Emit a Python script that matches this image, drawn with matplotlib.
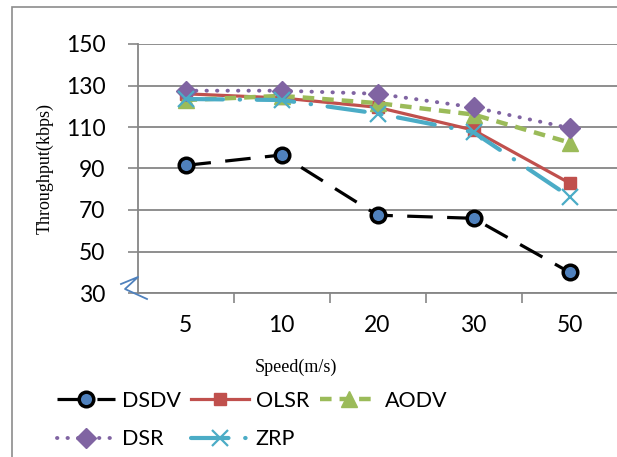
import matplotlib
matplotlib.use("Agg")
import matplotlib.pyplot as plt
from matplotlib.patches import Rectangle
from matplotlib.lines import Line2D

speeds = ["5", "10", "20", "30", "50"]
dsdv = [91.5, 96.5, 67.5, 66, 40]
olsr = [126, 124, 119.5, 108.5, 83]
aodv = [123, 125, 121.5, 116, 102.5]
dsr = [127.5, 127.5, 126, 119.5, 109.5]
zrp = [123.5, 123, 116.5, 107.5, 76.5]
yticks = [30, 50, 70, 90, 110, 130, 150]

W, H = 617, 457
fig = plt.figure(figsize=(W / 100, H / 100), dpi=100)
fig.patch.set_facecolor("white")

# outer border
fig.patches.append(Rectangle((12 / W, -0.1), 1.2, 1 - 7 / H + 0.1, transform=fig.transFigure,
                             fill=False, edgecolor="#8c8c8c", lw=1.2))

ax = fig.add_axes([137.5 / W, 1 - 293 / H, 480 / W, (293 - 44) / H])
x = list(range(len(speeds)))
grey = "#868686"

h1, = ax.plot(x, dsdv, color="black", lw=2.3, dashes=(8, 4.5), marker="o", ms=10.5,
              mfc="#4F81BD", mec="black", mew=2.5, label="DSDV", zorder=3)
h2, = ax.plot(x, olsr, color="#C0504D", lw=2.3, marker="s", ms=8.5,
              mfc="#C0504D", mec="#C0504D", label="OLSR", zorder=3)
h3, = ax.plot(x, aodv, color="#9BBB59", lw=3.2, dashes=(2.6, 1.8), marker="^", ms=12,
              mfc="#9BBB59", mec="#9BBB59", label="AODV", zorder=3)
h4, = ax.plot(x, dsr, color="#8064A2", lw=2.8, dashes=(0.1, 2.6), dash_capstyle="round",
              marker="D", ms=10, mfc="#8064A2", mec="#8064A2", label="DSR", zorder=3)
h5, = ax.plot(x, zrp, color="#4BACC6", lw=3.0, dashes=(9, 4, 0.1, 4), dash_capstyle="round",
              marker="x", ms=12, mew=1.6, mfc="#4BACC6", mec="#4BACC6", label="ZRP", zorder=3)

ax.set_xlim(-0.5, len(speeds) - 0.5)
ax.set_ylim(30, 150)
ax.set_yticks(yticks)
ax.set_xticks(x)
ax.set_xticklabels(speeds)
ax.set_xticks([i - 0.5 for i in range(1, len(speeds) + 1)], minor=True)
ax.tick_params(axis="x", which="major", length=0, pad=16)
ax.tick_params(axis="x", which="minor", length=7, width=1.2, color=grey)
ax.tick_params(axis="y", length=7, width=1.2, color=grey, pad=16)
for lab in ax.get_xticklabels() + ax.get_yticklabels():
    lab.set_fontfamily("Lato")
    lab.set_fontsize(16.5)
ax.yaxis.grid(True, color=grey, lw=1.3)
ax.set_axisbelow(True)
for s in ["top", "right"]:
    ax.spines[s].set_visible(False)
for s in ["left", "bottom"]:
    ax.spines[s].set_color(grey)
    ax.spines[s].set_linewidth(1.3)

# axis break squiggle
bx = [121, 138, 125, 147]
by = [284, 277, 289, 299]
fig.add_artist(Line2D([v / W for v in bx], [1 - v / H for v in by], color="#4F81BD", lw=1.3))

fig.text(45 / W, 1 - 168 / H, "Throughput(kbps)", rotation=90, ha="center", va="center",
         family="Liberation Serif", fontsize=13)
fig.text(296 / W, 1 - 367 / H, "Speed(m/s)", ha="center", va="center",
         family="Liberation Serif", fontsize=13)

handles = [h1, h4, h2, h5, h3]
labels = [h.get_label() for h in handles]
leg = fig.legend(handles, labels, loc="upper left", bbox_to_anchor=(57 / W, 1 - 391 / H), ncol=3,
                 frameon=False, prop={"family": "Lato", "size": 15.5}, handlelength=2.7,
                 handletextpad=0.3, columnspacing=0.5, labelspacing=0.85,
                 borderaxespad=0, borderpad=0)

fig.savefig("out.png", dpi=100)
